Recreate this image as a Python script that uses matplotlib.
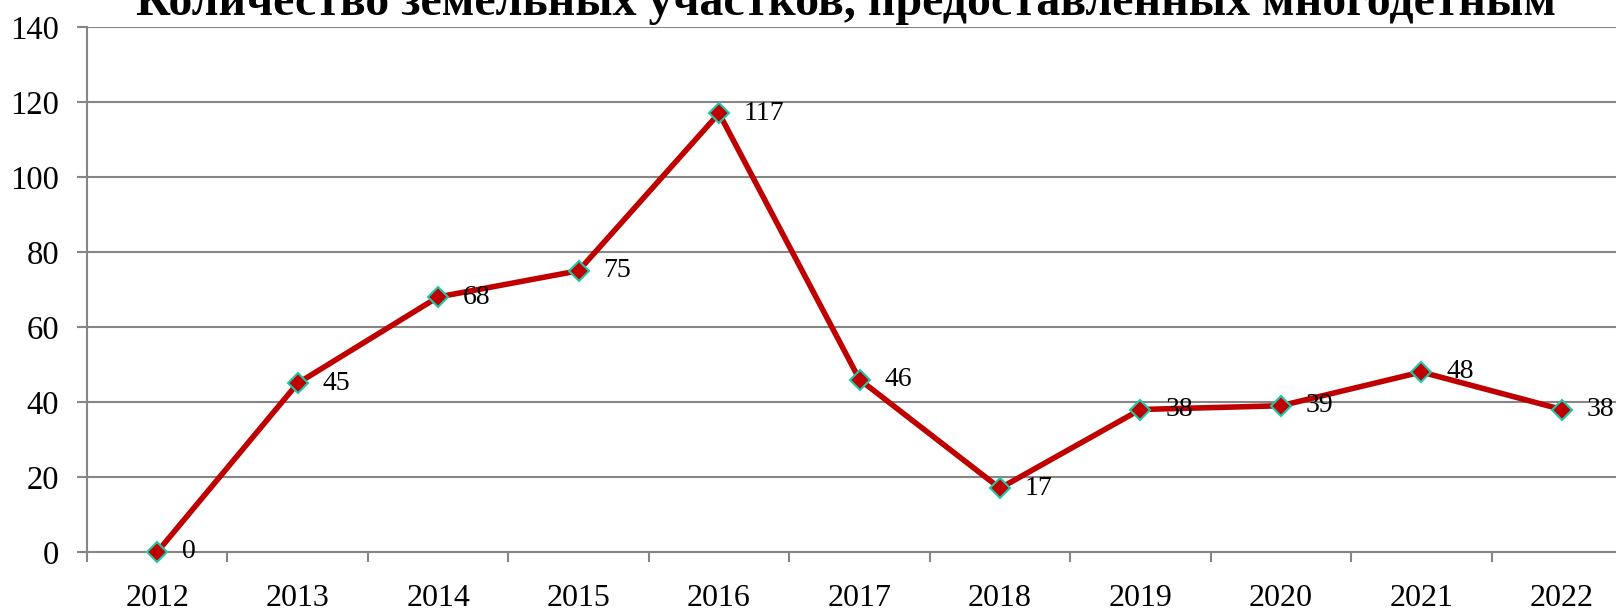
import matplotlib
matplotlib.use("Agg")
import matplotlib.pyplot as plt

years = ["2012", "2013", "2014", "2015", "2016", "2017", "2018", "2019", "2020", "2021", "2022"]
plots = [0, 45, 68, 75, 117, 46, 17, 38, 39, 48, 38]
y_ticks = [0, 20, 40, 60, 80, 100, 120, 140]
title = "Количество земельных участков, предоставленных многодетным"

plt.rcParams['font.family'] = ['Liberation Serif', 'DejaVu Serif']

W, H = 1616, 613
fig = plt.figure(figsize=(W / 100, H / 100), dpi=100)
fig.patch.set_facecolor('white')

# plot area runs past the right edge, as in the source picture
left, right, bottom, top = 87, 1632, 552, 27
ax = fig.add_axes([left / W, (H - bottom) / H, (right - left) / W, (bottom - top) / H])

x = list(range(len(years)))
ax.plot(x, plots, color='#C00000', linewidth=4, marker='D', markersize=10,
        markerfacecolor='#C00000', markeredgecolor='#20C8A8', markeredgewidth=1.5,
        zorder=3, clip_on=False)

for xi, v in zip(x, plots):
    ax.annotate(str(v), (xi, v), xytext=(18, 0), textcoords='offset points',
                ha='left', va='center', fontsize=20, color='black')

ax.set_xlim(-0.5, len(years) - 0.5)
ax.set_ylim(0, 140)
ax.set_yticks(y_ticks)
ax.set_yticklabels([str(t) for t in y_ticks])
ax.yaxis.grid(True, color='#868686', linewidth=1.5)
ax.set_axisbelow(True)

# category boundaries as major ticks, labels at centres
ax.set_xticks([i - 0.5 for i in range(len(years) + 1)])
ax.set_xticklabels([])
ax.set_xticks(x, minor=True)
ax.set_xticklabels(years, minor=True)
ax.tick_params(axis='x', which='major', length=7, width=1.5, color='#868686', direction='out')
ax.tick_params(axis='x', which='minor', length=0, pad=23, labelsize=23)
ax.tick_params(axis='y', length=7, width=1.5, color='#868686', direction='out', pad=13, labelsize=23.5)

for s in ['top', 'right']:
    ax.spines[s].set_visible(False)
for s in ['left', 'bottom']:
    ax.spines[s].set_color('#868686')
    ax.spines[s].set_linewidth(1.5)

fig.text(846 / W, (H - 15) / H, title, ha='center', va='baseline',
         fontsize=34.5, fontweight='bold', color='black')

fig.savefig('out.png', dpi=100)
